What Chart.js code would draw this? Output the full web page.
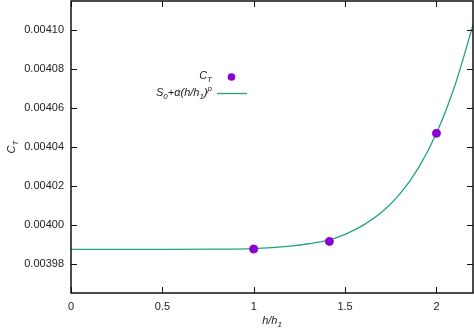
<!DOCTYPE html>
<html>
<head>
<meta charset="utf-8">
<script src="https://cdn.jsdelivr.net/npm/chart.js@4/dist/chart.umd.min.js"></script>
<style>
html,body{margin:0;padding:0;background:#fff;}
#wrap{width:474px;height:331px;position:relative;}
</style>
</head>
<body>
<div id="wrap"><canvas id="c" width="474" height="331"></canvas></div>
<script>
// Measured points C_T
const pointX = [1.0, 1.414, 2.0];
const pointY = [0.0039879, 0.0039918, 0.0040471];
// Fitted curve S0 + alpha (h/h1)^p
const curveX = [0, 0.5, 0.8, 1.0, 1.1, 1.2, 1.3, 1.414, 1.5, 1.6, 1.7, 1.8, 1.9, 2.0, 2.1, 2.2];
const curveY = [0.0039877, 0.0039877, 0.0039878, 0.0039881, 0.0039886, 0.0039894, 0.0039906, 0.0039926, 0.0039954, 0.0040001, 0.0040067, 0.0040161, 0.0040292, 0.0040471, 0.0040713, 0.0041025];
// Tick values
const xTicks = [0, 0.5, 1, 1.5, 2];
const yTicks = [0.00398, 0.00400, 0.00402, 0.00404, 0.00406, 0.00408, 0.00410];

const FONT = '"Liberation Sans", Arial, sans-serif';
const POINT_COLOR = '#8a00d4';
const LINE_COLOR = '#21a383';

function drawMath(ctx, parts, x, y, align, size) {
  const fontFor = (p) => 'italic ' + (p.s === 'n' ? size : Math.round(size * 0.75)) + 'px ' + FONT;
  let w = 0;
  parts.forEach(p => { ctx.font = fontFor(p); w += ctx.measureText(p.t).width; });
  let cx = align === 'right' ? x - w : (align === 'center' ? x - w / 2 : x);
  ctx.textBaseline = 'middle';
  ctx.textAlign = 'left';
  parts.forEach(p => {
    ctx.font = fontFor(p);
    let dy = 0;
    if (p.s === 'sub') dy = size * 0.35;
    if (p.s === 'sup') dy = -size * 0.38;
    ctx.fillText(p.t, cx, y + dy);
    cx += ctx.measureText(p.t).width;
  });
}

const decor = {
  id: 'decor',
  afterDraw(chart) {
    const ctx = chart.ctx;
    const a = chart.chartArea;
    const xs = chart.scales.x, ys = chart.scales.y;
    ctx.save();
    ctx.strokeStyle = '#111';
    ctx.lineWidth = 1.5;
    ctx.strokeRect(a.left, a.top, a.right - a.left, a.bottom - a.top);
    ctx.lineWidth = 1;
    const tl = 6;
    ctx.beginPath();
    xTicks.forEach(v => {
      const px = Math.round(xs.getPixelForValue(v)) + 0.5;
      ctx.moveTo(px, a.bottom); ctx.lineTo(px, a.bottom - tl);
      ctx.moveTo(px, a.top); ctx.lineTo(px, a.top + tl);
    });
    yTicks.forEach(v => {
      const py = Math.round(ys.getPixelForValue(v)) + 0.5;
      ctx.moveTo(a.left, py); ctx.lineTo(a.left + tl, py);
      ctx.moveTo(a.right, py); ctx.lineTo(a.right - tl, py);
    });
    ctx.stroke();

    ctx.fillStyle = '#222';
    drawMath(ctx, [{t:'h/h', s:'n'}, {t:'1', s:'sub'}], (a.left + a.right) / 2, 321, 'center', 11);
    ctx.save();
    ctx.translate(12, 147);
    ctx.rotate(-Math.PI / 2);
    drawMath(ctx, [{t:'C', s:'n'}, {t:'T', s:'sub'}], 0, 0, 'center', 11);
    ctx.restore();

    drawMath(ctx, [{t:'C', s:'n'}, {t:'T', s:'sub'}], 212, 76, 'right', 11);
    drawMath(ctx, [{t:'S', s:'n'}, {t:'0', s:'sub'}, {t:'+\u03B1(h/h', s:'n'}, {t:'1', s:'sub'}, {t:')', s:'n'}, {t:'p', s:'sup'}], 212, 93, 'right', 11);
    ctx.fillStyle = POINT_COLOR;
    ctx.beginPath();
    ctx.arc(231.5, 77, 3.8, 0, Math.PI * 2);
    ctx.fill();
    ctx.strokeStyle = LINE_COLOR;
    ctx.lineWidth = 1.3;
    ctx.beginPath();
    ctx.moveTo(217, 93.5); ctx.lineTo(247, 93.5);
    ctx.stroke();
    ctx.restore();
  }
};

new Chart(document.getElementById('c'), {
  type: 'scatter',
  data: {
    datasets: [
      {
        label: 'S0+α(h/h1)^p',
        data: curveX.map((x, i) => ({x: x, y: curveY[i]})),
        showLine: true,
        borderColor: LINE_COLOR,
        borderWidth: 1.3,
        pointRadius: 0,
        cubicInterpolationMode: 'monotone',
        order: 2
      },
      {
        label: 'C_T',
        data: pointX.map((x, i) => ({x: x, y: pointY[i]})),
        backgroundColor: POINT_COLOR,
        borderColor: POINT_COLOR,
        pointRadius: 4,
        order: 1
      }
    ]
  },
  options: {
    responsive: false,
    animation: false,
    clip: true,
    layout: { autoPadding: false, padding: { top: 1, right: 1, left: 0, bottom: 0 } },
    plugins: { legend: { display: false }, title: { display: false }, tooltip: { enabled: false } },
    scales: {
      x: {
        type: 'linear',
        min: 0, max: 2.2,
        grid: { display: false, drawTicks: false },
        border: { display: false },
        afterBuildTicks: s => { s.ticks = xTicks.map(v => ({value: v})); },
        afterFit: s => { s.height = 38; s.paddingLeft = 0; s.paddingRight = 0; },
        ticks: {
          color: '#222', padding: 7, maxRotation: 0, autoSkip: false,
          font: { family: FONT, size: 11 },
          callback: v => String(v)
        }
      },
      y: {
        type: 'linear',
        min: 0.0039654, max: 0.0041148,
        grid: { display: false, drawTicks: false },
        border: { display: false },
        afterBuildTicks: s => { s.ticks = yTicks.map(v => ({value: v})); },
        afterFit: s => { s.width = 71; s.paddingTop = 0; s.paddingBottom = 0; },
        ticks: {
          color: '#222', padding: 7, autoSkip: false,
          font: { family: FONT, size: 11 },
          callback: v => Number(v).toFixed(5)
        }
      }
    }
  },
  plugins: [decor]
});
</script>
</body>
</html>
